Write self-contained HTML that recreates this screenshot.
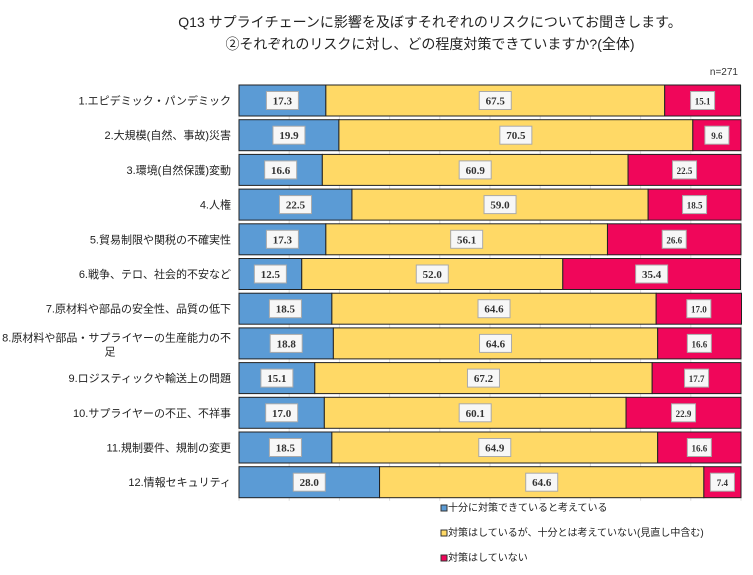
<!DOCTYPE html>
<html><head><meta charset="utf-8"><style>
body{margin:0;background:#fff;width:753px;height:570px;overflow:hidden;font-family:"Liberation Sans","Noto Sans CJK JP",sans-serif}
</style></head><body>
<svg id="c" width="753" height="570" xmlns="http://www.w3.org/2000/svg">
<text x="430" y="27" font-size="14" text-anchor="middle" fill="#222">Q13 サプライチェーンに影響を及ぼすそれぞれのリスクについてお聞きします。</text>
<text x="430" y="49" font-size="14" text-anchor="middle" fill="#222">②それぞれのリスクに対し、どの程度対策できていますか?(全体)</text>
<text x="738" y="75" font-size="10" text-anchor="end" fill="#333">n=271</text>
<g id="grid"></g><g id="bars"></g><g id="legend"></g>
</svg>
<script>
const categories=["1.エピデミック・パンデミック","2.大規模(自然、事故)災害","3.環境(自然保護)変動","4.人権","5.貿易制限や関税の不確実性","6.戦争、テロ、社会的不安など","7.原材料や部品の安全性、品質の低下","8.原材料や部品・サプライヤーの生産能力の不足","9.ロジスティックや輸送上の問題","10.サプライヤーの不正、不祥事","11.規制要件、規制の変更","12.情報セキュリティ"];
const sufficient=[17.3,19.9,16.6,22.5,17.3,12.5,18.5,18.8,15.1,17.0,18.5,28.0];
const partial=[67.5,70.5,60.9,59.0,56.1,52.0,64.6,64.6,67.2,60.1,64.9,64.6];
const none=[15.1,9.6,22.5,18.5,26.6,35.4,17.0,16.6,17.7,22.9,16.6,7.4];
const seriesNames=["十分に対策できていると考えている","対策はしているが、十分とは考えていない(見直し中含む)","対策はしていない"];
const colors=["#5b9bd5","#ffd966","#f0065a"];
const NS="http://www.w3.org/2000/svg";
const X0=239,X1=741,Y0=85,PITCH=34.7,BH=31;
const x=v=>X0+(X1-X0)*v/100;
const y=i=>Y0+i*PITCH;
function mk(t,a,p){const e=document.createElementNS(NS,t);for(const k in a)e.setAttribute(k,a[k]);p.appendChild(e);return e;}
const grid=document.getElementById('grid');
for(let t=0;t<=100;t+=10){
 const l=mk('line',{x1:x(t),x2:x(t),y1:Y0,y2:y(11)+BH+3,stroke:'#ddd'},grid);
 
 
}
const bars=document.getElementById('bars');
categories.forEach((c,i)=>{
 const lab=categories[i];
 const yc=y(i)+BH/2;
 if(lab.length>20){
  const t1=mk('text',{x:231,y:yc-2,'font-size':11,'text-anchor':'end',fill:'#222'},bars);t1.textContent=lab.slice(0,-1);
  
  
  const t2=mk('text',{x:110,y:yc+12,'font-size':11,'text-anchor':'middle',fill:'#222'},bars);t2.textContent=lab.slice(-1);
  
  
 }else{
  const t=mk('text',{x:231,y:yc+4,'font-size':11,'text-anchor':'end',fill:'#222'},bars);t.textContent=lab;
  
  
 }
 const vals=[sufficient[i],partial[i],none[i]];
 let acc=0;
 vals.forEach((v,s)=>{
  const r=mk('rect',{x:x(acc),y:y(i),width:x(acc+v)-x(acc),height:BH,fill:colors[s],stroke:'#222','stroke-width':1},bars);
  
  
  const cx=(x(acc)+x(acc+v))/2;
  const small=s===2&&v<30;
  const fs=small?9:11,bw=small?24:32;
  const b=mk('rect',{x:cx-bw/2,y:yc-9,width:bw,height:18,fill:'#f7f7f7',stroke:'#aaa'},bars);
  
  
  const t=mk('text',{x:cx,y:yc+4,'font-size':fs,'font-weight':'bold','text-anchor':'middle','font-family':'Liberation Serif,serif',fill:'#333'},bars);
  t.textContent=v.toFixed(1);
  
  
  acc+=v;
 });
});
const lg=document.getElementById('legend');
seriesNames.forEach((n,s)=>{
 const ly=511+s*25;
 const r=mk('rect',{x:441,y:ly-6,width:6,height:6,fill:colors[s],stroke:'#333'},lg);
 
 
 const t=mk('text',{x:448,y:ly,'font-size':10,fill:'#222'},lg);t.textContent=n;
 
 
});
</script>
</body></html>
